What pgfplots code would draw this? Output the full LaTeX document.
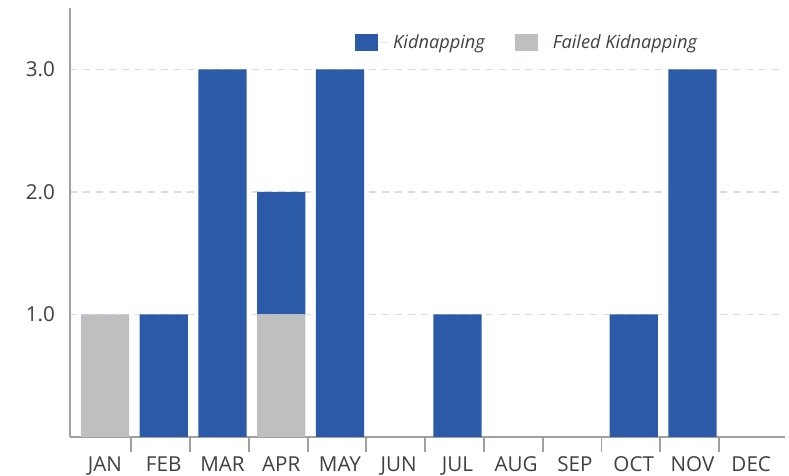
\documentclass[border=0pt]{standalone}
\usepackage{pgfplots}
\pgfplotsset{compat=1.18}
\usepackage{fontspec}
\setmainfont{Open Sans}
\definecolor{kblue}{HTML}{2B5AA8}
\definecolor{kgray}{HTML}{BEBFC1}
\definecolor{txt}{HTML}{404040}
\definecolor{axl}{HTML}{A0A0A0}
\definecolor{grd}{HTML}{DCDCDC}
\begin{document}
\begin{tikzpicture}
\path[use as bounding box] (-35pt,-19.5pt) rectangle (359.5pt,218.5pt);
\begin{axis}[
  at={(0,0)}, anchor=south west,
  scale only axis, width=357.5pt, height=214.5pt,
  ybar stacked, bar width=0.82,
  xmin=-0.595, xmax=11.575, ymin=0, ymax=3.5,
  axis x line*=bottom, axis y line*=left,
  axis line style={axl, line width=0.9pt, -},
  tick align=outside,
  xtick={0,1,2,3,4,5,6,7,8,9,10,11},
  xticklabels={JAN,FEB,MAR,APR,MAY,JUN,JUL,AUG,SEP,OCT,NOV,DEC},
  major tick length=0pt,
  extra x ticks={0.45,1.45,2.45,3.45,4.45,5.45,6.45,7.45,8.45,9.45,10.45},
  extra x tick labels={},
  extra x tick style={major tick length=7.5pt, tick align=outside,
    xtick style={draw=axl, line width=0.9pt}, grid=none},
  ytick={1,2,3},
  /pgf/number format/fixed, /pgf/number format/fixed zerofill,
  /pgf/number format/precision=1, /pgf/number format/assume math mode=true,
  major y tick style={draw=none},
  ymajorgrids, grid style={grd, line width=0.7pt, dash pattern=on 3.5pt off 3pt},
  xticklabel style={font=\fontsize{10.3}{12}\selectfont, color=txt, yshift=-6.5pt},
  yticklabel style={font=\fontsize{10.3}{12}\selectfont, color=txt, xshift=-4pt},
  legend style={draw=none, fill=none, at={(0.39,0.958)}, anchor=north west,
    legend columns=2, font=\fontsize{9.1}{10}\selectfont\itshape\color{txt},
    /tikz/every even column/.append style={column sep=13pt}},
  legend image code/.code={\fill[#1] (0pt,-4.25pt) rectangle (11.5pt,4.25pt);
    \path (0pt,0pt) -- (17pt,0pt);},
  reverse legend,
  legend cell align=left,
]
\addplot[fill=kgray, draw=none] coordinates {(0,1) (1,0) (2,0) (3,1) (4,0) (5,0) (6,0) (7,0) (8,0) (9,0) (10,0) (11,0)};
\addplot[fill=kblue, draw=none] coordinates {(0,0) (1,1) (2,3) (3,1) (4,3) (5,0) (6,1) (7,0) (8,0) (9,1) (10,3) (11,0)};
\legend{Failed Kidnapping, Kidnapping}
\end{axis}
\end{tikzpicture}
\end{document}
